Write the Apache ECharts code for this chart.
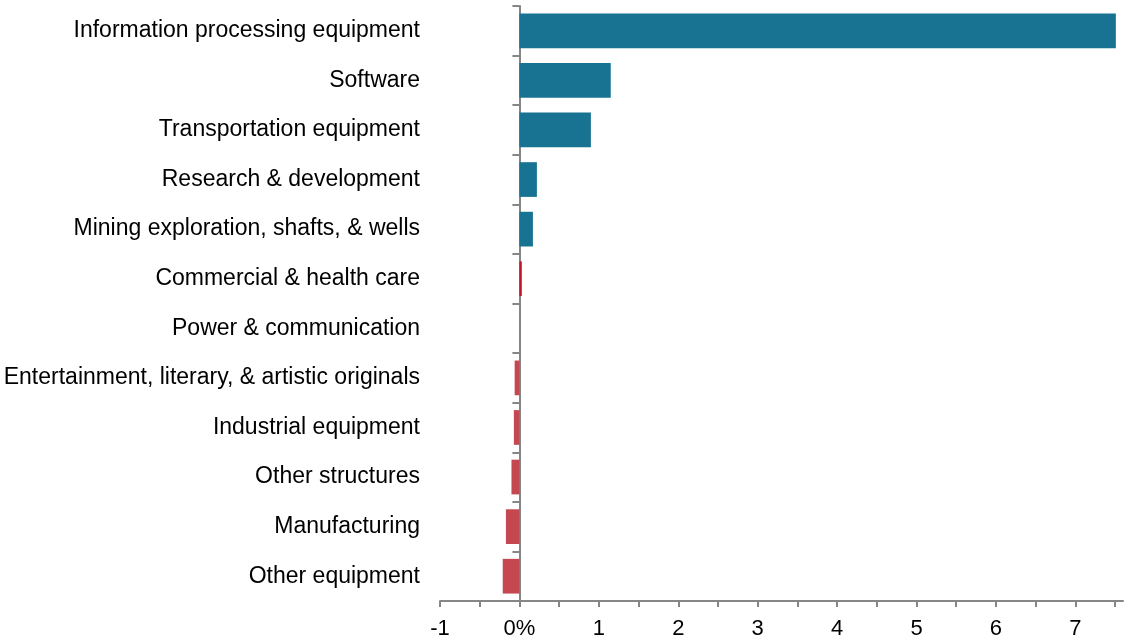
<!DOCTYPE html>
<html>
<head>
<meta charset="utf-8">
<script src="https://cdn.jsdelivr.net/npm/echarts@6/dist/echarts.min.js"></script>
<style>
  html, body { margin: 0; padding: 0; background: #fff; }
  #main { width: 1142px; height: 644px; }
</style>
</head>
<body>
<div id="main"></div>
<script>
// categories, top to bottom
const categories = [
  'Information processing equipment',
  'Software',
  'Transportation equipment',
  'Research & development',
  'Mining exploration, shafts, & wells',
  'Commercial & health care',
  'Power & communication',
  'Entertainment, literary, & artistic originals',
  'Industrial equipment',
  'Other structures',
  'Manufacturing',
  'Other equipment'
];
// contribution values (percent)
const values = [7.51, 1.15, 0.90, 0.22, 0.17, 0.03, 0, -0.06, -0.07, -0.10, -0.17, -0.21];
// this one is drawn in the brighter red
const redCategories = ['Commercial & health care'];

const tickValues = [-1, -0.5, 0, 0.5, 1, 1.5, 2, 2.5, 3, 3.5, 4, 4.5, 5, 5.5, 6, 6.5, 7, 7.5];
const labelValues = [-1, 0, 1, 2, 3, 4, 5, 6, 7];

const TEAL = '#177391';
const RED = '#C5474F';
const BRIGHT_RED = '#C0152A';
const AXIS = '#868686';
const FONT = 'Liberation Sans, Arial, sans-serif';

const chart = echarts.init(document.getElementById('main'));

const option = {
  animation: false,
  grid: { left: 440, right: 19, top: 6, bottom: 43 },
  xAxis: {
    type: 'value',
    min: -1,
    max: 7.6,
    splitLine: { show: false },
    axisLine: { show: true, lineStyle: { color: AXIS, width: 2 } },
    axisTick: { show: true, length: 6, customValues: tickValues, lineStyle: { color: AXIS, width: 2 } },
    axisLabel: {
      customValues: labelValues,
      margin: 17,
      color: '#000',
      fontFamily: FONT,
      fontSize: 22,
      formatter: v => (v === 0 ? '0%' : String(v))
    }
  },
  yAxis: [
    {
      // labels at the left edge of the plot
      type: 'category',
      position: 'left',
      inverse: true,
      data: categories,
      axisLine: { show: false, onZero: false },
      axisTick: { show: false },
      axisLabel: { margin: 20, padding: [4, 0, 0, 0], color: '#000', fontFamily: FONT, fontSize: 23 }
    },
    {
      // line + ticks at zero
      type: 'category',
      position: 'left',
      inverse: true,
      data: categories,
      axisLine: { show: true, onZero: true, lineStyle: { color: AXIS, width: 2 } },
      axisTick: { show: true, length: 7, lineStyle: { color: AXIS, width: 2 } },
      axisLabel: { show: false }
    }
  ],
  series: [
    {
      type: 'bar',
      xAxisIndex: 0,
      yAxisIndex: 0,
      barCategoryGap: '30%',
      data: values.map((v, i) => ({
        value: v,
        itemStyle: {
          color: redCategories.includes(categories[i]) ? BRIGHT_RED : (v >= 0 ? TEAL : RED)
        }
      }))
    }
  ]
};

chart.setOption(option);
</script>
</body>
</html>
